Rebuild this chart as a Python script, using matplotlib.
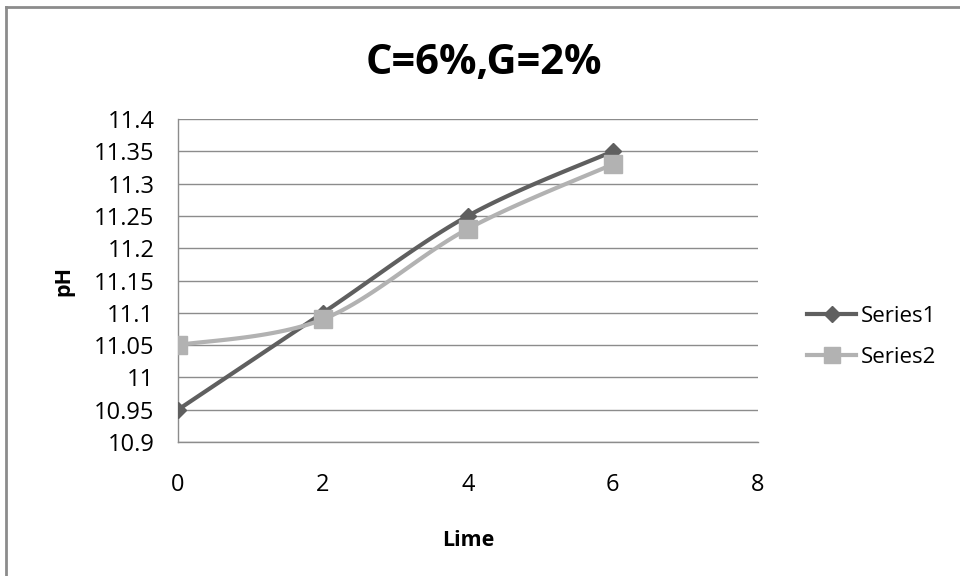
import matplotlib
matplotlib.use("Agg")
import matplotlib.pyplot as plt
import numpy as np
from matplotlib.lines import Line2D

lime = [0, 2, 4, 6]
series1 = [10.95, 11.10, 11.25, 11.35]
series2 = [11.05, 11.09, 11.23, 11.33]
series_names = ["Series1", "Series2"]
x_ticks = [0, 2, 4, 6, 8]
y_ticks = [10.9, 10.95, 11.0, 11.05, 11.1, 11.15, 11.2, 11.25, 11.3, 11.35, 11.4]
y_tick_labels = ["10.9", "10.95", "11", "11.05", "11.1", "11.15", "11.2",
                 "11.25", "11.3", "11.35", "11.4"]


def smooth(x, y, n=30):
    # Excel-style smoothed line: Bezier segments with Catmull-Rom tangents
    x = np.asarray(x, float)
    y = np.asarray(y, float)
    px = np.concatenate([[x[0]], x, [x[-1]]])
    py = np.concatenate([[y[0]], y, [y[-1]]])
    t = np.linspace(0, 1, n)
    xs, ys = [], []
    for i in range(1, len(px) - 2):
        p0 = np.array([px[i], py[i]])
        p3 = np.array([px[i + 1], py[i + 1]])
        p1 = p0 + (np.array([px[i + 1], py[i + 1]]) - np.array([px[i - 1], py[i - 1]])) / 6
        p2 = p3 - (np.array([px[i + 2], py[i + 2]]) - np.array([px[i], py[i]])) / 6
        b = ((1 - t) ** 3)[:, None] * p0 + (3 * (1 - t) ** 2 * t)[:, None] * p1 \
            + (3 * (1 - t) * t ** 2)[:, None] * p2 + (t ** 3)[:, None] * p3
        xs.extend(b[:, 0])
        ys.extend(b[:, 1])
    return np.array(xs), np.array(ys)


plt.rcParams["font.family"] = ["Open Sans", "DejaVu Sans"]

fig = plt.figure(figsize=(9.6, 5.76), dpi=100)
ax = fig.add_axes([0.1854, 0.2326, 0.604, 0.5608])

c1 = "#5f5f5f"
c2 = "#b2b2b2"

sx, sy = smooth(lime, series1)
ax.plot(sx, sy, color=c1, linewidth=3, solid_capstyle="round", zorder=3)
ax.plot(lime, series1, linestyle="none", marker="D", markersize=8.5,
        color=c1, zorder=4)
sx, sy = smooth(lime, series2)
ax.plot(sx, sy, color=c2, linewidth=3, solid_capstyle="round", zorder=3)
ax.plot(lime, series2, linestyle="none", marker="s", markersize=13,
        color=c2, zorder=4)

ax.set_xlim(0, 8)
ax.set_ylim(10.9, 11.4)
ax.set_xticks(x_ticks)
ax.set_xticklabels([str(v) for v in x_ticks])
ax.set_yticks(y_ticks)
ax.set_yticklabels(y_tick_labels)
ax.tick_params(axis="both", length=0, labelsize=17, colors="black")
ax.tick_params(axis="x", pad=22)
ax.tick_params(axis="y", pad=17)
ax.grid(axis="y", color="#8c8c8c", linewidth=1)
ax.set_axisbelow(True)
for side in ["top", "right"]:
    ax.spines[side].set_visible(False)
for side in ["left", "bottom"]:
    ax.spines[side].set_color("#8c8c8c")
    ax.spines[side].set_linewidth(1)

ax.set_xlabel("Lime", fontsize=15.5, fontweight="bold", labelpad=24)
ax.set_ylabel("pH", fontsize=15.5, fontweight="bold", labelpad=14)
fig.text(0.504, 0.89, "C=6%,G=2%", fontsize=30, fontweight="bold",
         ha="center", va="center")

handles = [
    Line2D([], [], color=c1, linewidth=3, marker="D", markersize=8),
    Line2D([], [], color=c2, linewidth=3, marker="s", markersize=12),
]
fig.legend(handles, series_names, loc="center left",
           bbox_to_anchor=(0.82, 0.415), frameon=False, fontsize=16,
           handlelength=2.2, handletextpad=0.2, labelspacing=0.9)

# chart border (only top and left edges are visible in the crop)
fig.add_artist(Line2D([0.006, 0.006], [0, 0.988], color="#8c8c8c",
                      linewidth=2, transform=fig.transFigure))
fig.add_artist(Line2D([0.006, 1], [0.988, 0.988], color="#8c8c8c",
                      linewidth=2, transform=fig.transFigure))

fig.savefig("out.png", dpi=100)
